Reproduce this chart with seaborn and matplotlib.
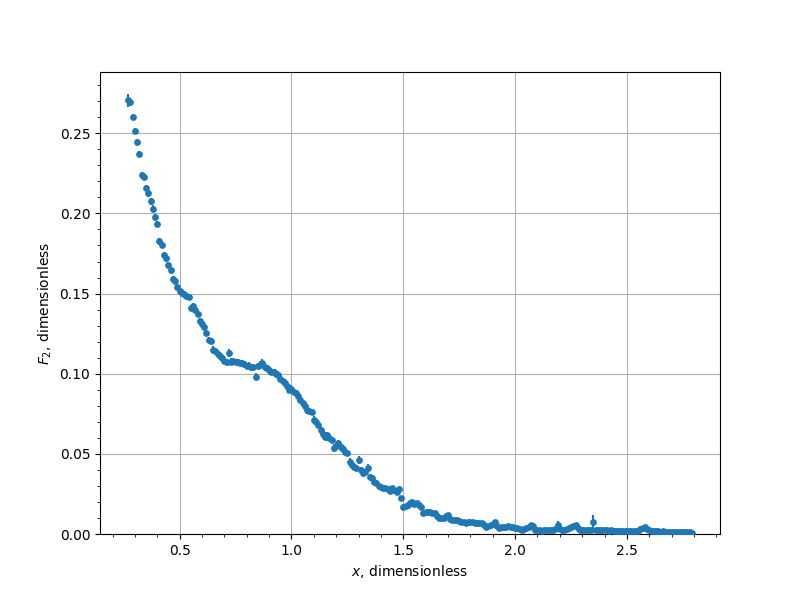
import matplotlib
matplotlib.use('Agg')
import matplotlib.pyplot as plt
import seaborn as sns
import pandas as pd

x_vals = [
    0.27, 0.28, 0.29, 0.30, 0.31, 0.32, 0.33, 0.34, 0.35, 0.36,
    0.37, 0.38, 0.39, 0.40, 0.41, 0.42, 0.43, 0.44, 0.45, 0.46,
    0.47, 0.48, 0.49, 0.50, 0.51, 0.52, 0.53, 0.54, 0.55, 0.56,
    0.57, 0.58, 0.59, 0.60, 0.61, 0.62, 0.63, 0.64, 0.65, 0.66,
    0.67, 0.68, 0.69, 0.70, 0.71, 0.72, 0.73, 0.74, 0.75, 0.76,
    0.77, 0.78, 0.79, 0.80, 0.81, 0.82, 0.83, 0.84, 0.85, 0.86,
    0.87, 0.88, 0.89, 0.90, 0.91, 0.92, 0.93, 0.94, 0.95, 0.96,
    0.97, 0.98, 0.99, 1.00, 1.01, 1.02, 1.03, 1.04, 1.05, 1.06,
    1.07, 1.08, 1.09, 1.10, 1.11, 1.12, 1.13, 1.14, 1.15, 1.16,
    1.17, 1.18, 1.19, 1.20, 1.21, 1.22, 1.23, 1.24, 1.25, 1.26,
    1.27, 1.28, 1.29, 1.30, 1.31, 1.32, 1.33, 1.34, 1.35, 1.36,
    1.37, 1.38, 1.39, 1.40, 1.41, 1.42, 1.43, 1.44, 1.45, 1.46,
    1.47, 1.48, 1.49, 1.50, 1.51, 1.52, 1.53, 1.54, 1.55, 1.56,
    1.57, 1.58, 1.59, 1.60, 1.61, 1.62, 1.63, 1.64, 1.65, 1.66,
    1.67, 1.68, 1.69, 1.70, 1.71, 1.72, 1.73, 1.74, 1.75, 1.76,
    1.77, 1.78, 1.79, 1.80, 1.81, 1.82, 1.83, 1.84, 1.85, 1.86,
    1.87, 1.88, 1.89, 1.90, 1.91, 1.92, 1.93, 1.94, 1.95, 1.96,
    1.97, 1.98, 1.99, 2.00, 2.01, 2.02, 2.03, 2.04, 2.05, 2.06,
    2.07, 2.08, 2.09, 2.10, 2.11, 2.12, 2.13, 2.14, 2.15, 2.16,
    2.17, 2.18, 2.19, 2.20, 2.21, 2.22, 2.23, 2.24, 2.25, 2.26,
    2.27, 2.28, 2.29, 2.30, 2.31, 2.32, 2.33, 2.34, 2.35, 2.36,
    2.37, 2.38, 2.39, 2.40, 2.41, 2.42, 2.43, 2.44, 2.45, 2.46,
    2.47, 2.48, 2.49, 2.50, 2.51, 2.52, 2.53, 2.54, 2.55, 2.56,
    2.57, 2.58, 2.59, 2.60, 2.61, 2.62, 2.63, 2.64, 2.65, 2.66,
    2.67, 2.68, 2.69, 2.70, 2.71, 2.72, 2.73, 2.74, 2.75, 2.76,
    2.77, 2.78, 2.79,
]

f2_vals = [
    0.2705, 0.2695, 0.2600, 0.2515, 0.2445, 0.2370, 0.2240, 0.2230, 0.2160, 0.2125,
    0.2075, 0.2030, 0.1975, 0.1935, 0.1825, 0.1805, 0.1740, 0.1720, 0.1680, 0.1645,
    0.1590, 0.1580, 0.1540, 0.1515, 0.1505, 0.1495, 0.1485, 0.1480, 0.1410, 0.1420,
    0.1400, 0.1375, 0.1330, 0.1310, 0.1290, 0.1255, 0.1210, 0.1205, 0.1150, 0.1140,
    0.1125, 0.1110, 0.1095, 0.1080, 0.1070, 0.1130, 0.1075, 0.1080, 0.1072, 0.1074,
    0.1068, 0.1064, 0.1058, 0.1047, 0.1050, 0.1039, 0.1042, 0.0980, 0.1047, 0.1055,
    0.1064, 0.1040, 0.1033, 0.1025, 0.1012, 0.1010, 0.0997, 0.0990, 0.0970, 0.0955,
    0.0940, 0.0925, 0.0898, 0.0905, 0.0887, 0.0877, 0.0860, 0.0835, 0.0815, 0.0798,
    0.0773, 0.0765, 0.0762, 0.0711, 0.0700, 0.0680, 0.0648, 0.0625, 0.0607, 0.0617,
    0.0600, 0.0586, 0.0534, 0.0550, 0.0565, 0.0540, 0.0530, 0.0513, 0.0505, 0.0450,
    0.0430, 0.0420, 0.0410, 0.0460, 0.0400, 0.0378, 0.0385, 0.0410, 0.0357, 0.0350,
    0.0326, 0.0320, 0.0300, 0.0295, 0.0290, 0.0285, 0.0280, 0.0270, 0.0285, 0.0275,
    0.0265, 0.0280, 0.0222, 0.0170, 0.0175, 0.0181, 0.0195, 0.0201, 0.0185, 0.0191,
    0.0180, 0.0170, 0.0129, 0.0135, 0.0139, 0.0137, 0.0132, 0.0129, 0.0110, 0.0098,
    0.0100, 0.0098, 0.0110, 0.0118, 0.0095, 0.0087, 0.0090, 0.0087, 0.0082, 0.0077,
    0.0075, 0.0070, 0.0072, 0.0077, 0.0075, 0.0070, 0.0067, 0.0068, 0.0067, 0.0058,
    0.0046, 0.0050, 0.0056, 0.0060, 0.0077, 0.0050, 0.0036, 0.0042, 0.0046, 0.0045,
    0.0047, 0.0046, 0.0042, 0.0040, 0.0036, 0.0030, 0.0025, 0.0032, 0.0036, 0.0045,
    0.0056, 0.0050, 0.0025, 0.0024, 0.0022, 0.0021, 0.0023, 0.0025, 0.0025, 0.0027,
    0.0028, 0.0029, 0.0056, 0.0030, 0.0028, 0.0027, 0.0030, 0.0038, 0.0046, 0.0050,
    0.0056, 0.0035, 0.0028, 0.0026, 0.0027, 0.0025, 0.0026, 0.0024, 0.0072, 0.0025,
    0.0023, 0.0024, 0.0026, 0.0022, 0.0023, 0.0021, 0.0022, 0.0020, 0.0021, 0.0019,
    0.0020, 0.0018, 0.0019, 0.0017, 0.0018, 0.0016, 0.0017, 0.0018, 0.0020, 0.0030,
    0.0036, 0.0042, 0.0030, 0.0022, 0.0020, 0.0018, 0.0017, 0.0016, 0.0015, 0.0016,
    0.0014, 0.0015, 0.0013, 0.0014, 0.0012, 0.0013, 0.0011, 0.0012, 0.0011, 0.0010,
    0.0011, 0.0010, 0.0009,
]

# error bars (mostly hidden under the markers)
f2_err = [
    0.0040, 0.0025, 0.0020, 0.0020, 0.0020, 0.0020, 0.0020, 0.0020, 0.0020, 0.0020,
    0.0020, 0.0020, 0.0020, 0.0020, 0.0020, 0.0020, 0.0020, 0.0020, 0.0020, 0.0020,
    0.0020, 0.0020, 0.0020, 0.0020, 0.0020, 0.0020, 0.0020, 0.0020, 0.0020, 0.0020,
    0.0020, 0.0020, 0.0020, 0.0020, 0.0020, 0.0020, 0.0020, 0.0020, 0.0020, 0.0020,
    0.0020, 0.0020, 0.0020, 0.0020, 0.0020, 0.0025, 0.0020, 0.0020, 0.0020, 0.0020,
    0.0020, 0.0020, 0.0020, 0.0020, 0.0020, 0.0020, 0.0020, 0.0022, 0.0020, 0.0025,
    0.0025, 0.0020, 0.0020, 0.0025, 0.0020, 0.0020, 0.0020, 0.0025, 0.0020, 0.0020,
    0.0020, 0.0025, 0.0020, 0.0025, 0.0020, 0.0020, 0.0025, 0.0020, 0.0020, 0.0020,
    0.0025, 0.0020, 0.0020, 0.0025, 0.0020, 0.0020, 0.0020, 0.0025, 0.0020, 0.0020,
    0.0020, 0.0020, 0.0025, 0.0020, 0.0020, 0.0025, 0.0020, 0.0020, 0.0020, 0.0025,
    0.0020, 0.0020, 0.0020, 0.0025, 0.0020, 0.0020, 0.0020, 0.0025, 0.0015, 0.0015,
    0.0015, 0.0015, 0.0015, 0.0015, 0.0015, 0.0015, 0.0015, 0.0015, 0.0015, 0.0015,
    0.0015, 0.0015, 0.0015, 0.0015, 0.0015, 0.0015, 0.0015, 0.0015, 0.0015, 0.0015,
    0.0015, 0.0015, 0.0012, 0.0012, 0.0012, 0.0012, 0.0012, 0.0012, 0.0012, 0.0012,
    0.0012, 0.0012, 0.0012, 0.0012, 0.0012, 0.0012, 0.0012, 0.0012, 0.0012, 0.0012,
    0.0012, 0.0012, 0.0012, 0.0012, 0.0012, 0.0012, 0.0012, 0.0012, 0.0012, 0.0012,
    0.0012, 0.0012, 0.0012, 0.0012, 0.0012, 0.0012, 0.0012, 0.0012, 0.0012, 0.0012,
    0.0012, 0.0012, 0.0012, 0.0012, 0.0012, 0.0012, 0.0012, 0.0012, 0.0012, 0.0012,
    0.0012, 0.0012, 0.0012, 0.0012, 0.0012, 0.0012, 0.0012, 0.0012, 0.0012, 0.0012,
    0.0012, 0.0012, 0.0028, 0.0012, 0.0012, 0.0012, 0.0012, 0.0012, 0.0012, 0.0012,
    0.0012, 0.0012, 0.0012, 0.0012, 0.0012, 0.0012, 0.0012, 0.0012, 0.0045, 0.0012,
    0.0010, 0.0010, 0.0010, 0.0010, 0.0010, 0.0010, 0.0010, 0.0010, 0.0010, 0.0010,
    0.0010, 0.0010, 0.0010, 0.0010, 0.0010, 0.0010, 0.0010, 0.0010, 0.0010, 0.0010,
    0.0010, 0.0010, 0.0010, 0.0010, 0.0010, 0.0010, 0.0010, 0.0010, 0.0010, 0.0010,
    0.0010, 0.0010, 0.0010, 0.0010, 0.0010, 0.0010, 0.0010, 0.0010, 0.0010, 0.0010,
    0.0010, 0.0010, 0.0010,
]

df = pd.DataFrame({'x': x_vals, 'F2': f2_vals, 'err': f2_err})

fig, ax = plt.subplots(figsize=(8, 6), dpi=100)

# error bars first, then the markers on top
ax.errorbar(df['x'], df['F2'], yerr=df['err'], fmt='none', ecolor='#1f77b4', elinewidth=1.5)
sns.scatterplot(data=df, x='x', y='F2', ax=ax, color='#1f77b4', s=24, linewidth=0, zorder=3)

ax.set_ylim(bottom=0)
ax.minorticks_on()
ax.grid(True, which='major')
ax.set_axisbelow(True)
ax.set_xlabel('$x$, dimensionless')
ax.set_ylabel('$F_2$, dimensionless')

plt.savefig('out.png', dpi=100)
